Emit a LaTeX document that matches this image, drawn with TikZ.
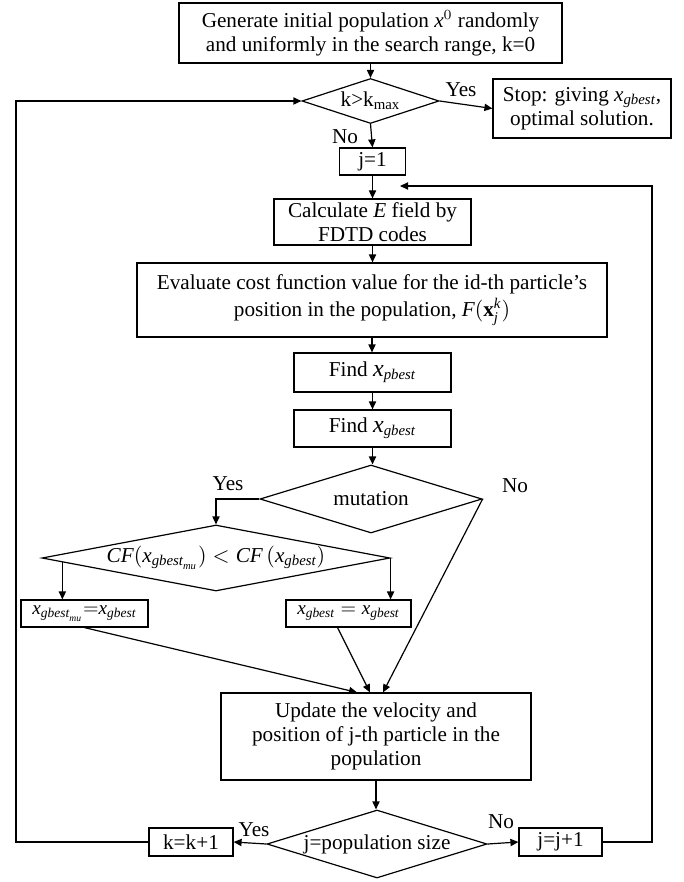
\documentclass[tikz,border=0pt]{standalone}
\usepackage{fontspec}
\setmainfont{Liberation Serif}
\usetikzlibrary{shapes.geometric, arrows.meta, calc}
\newcommand{\xv}[1]{\mathit{x}_{\mathit{#1}}}
\tikzset{
  box/.style={draw, line width=0.6pt, align=center, inner sep=0pt},
  decision/.style={draw, line width=0.6pt, diamond, aspect=3, inner xsep=-20pt, inner ysep=0pt, align=center},
  flow/.style={line width=0.6pt, -{Triangle[length=4pt, width=3.6pt]}},
  small/.style={font=\fontsize{9.6}{11}\selectfont}
}
\begin{document}
\begin{tikzpicture}[x=0.5pt, y=-0.5pt, font=\fontsize{10.6}{12}\selectfont]
\useasboundingbox (0,0) rectangle (684,882);
% start and stopping test
\node[box, minimum width=191.5pt, minimum height=30pt] (init) at (370.5,33)
  {Generate initial population $\mathit{x}^0$ randomly\\ and uniformly in the search range, k=0};
\node[decision, minimum width=68.5pt, minimum height=22.5pt] (kmax) at (370.5,101) {k>k$_{\mathrm{max}}$};
\node[box, minimum width=89pt, minimum height=29.5pt] (stop) at (582,108.5)
  {Stop: giving $\xv{gbest}$,\\ optimal solution.};
\node[box, minimum width=33pt, minimum height=13.5pt] (j1) at (372.5,161.5) {j=1};
% particle loop
\node[box, minimum width=98.5pt, minimum height=23pt] (calc) at (372.5,222) {Calculate $\mathit{E}$ field by\\ FDTD codes};
\node[box, minimum width=235pt, minimum height=37pt] (eval) at (372,300)
  {Evaluate cost function value for the id-th particle’s\\[1.5pt] position in the population, $\mathit{F}(\mathbf{x}_{\mathit{j}}^{\mathit{k}})$};
\node[box, minimum width=78.5pt, minimum height=19.5pt] (pbest) at (372.5,372.5) {Find {\large$\mathit{x}$}$_{\mathit{pbest}}$};
\node[box, minimum width=78.5pt, minimum height=18.5pt] (gbest) at (372.5,428.5) {Find {\large$\mathit{x}$}$_{\mathit{gbest}}$};
% mutation branch
\node[decision, minimum width=111pt, minimum height=34pt] (mut) at (371,499) {mutation};
\node[decision, aspect=5.3, minimum width=174pt, minimum height=33pt] (cf) at (216,558)
  {$\mathit{CF}(\mathit{x}_{\mathit{gbest}_{\mathit{mu}}}) < \mathit{CF}\,(\xv{gbest})$};
\node[box, small, minimum width=63.5pt, minimum height=13.5pt] (mu) at (84.5,613.5) {$\mathit{x}_{\mathit{gbest}_{\mathit{mu}}} {=} \xv{gbest}$};
\node[box, small, minimum width=62.5pt, minimum height=13.5pt] (eq) at (348.5,613.5) {$\xv{gbest} = \xv{gbest}$};
% update and counters
\node[box, minimum width=155pt, minimum height=43.5pt] (upd) at (376,736.5)
  {Update the velocity and\\ position of j-th particle in the\\ population};
\node[decision, minimum width=110pt, minimum height=34pt] (pop) at (377,844) {j=population size};
\node[box, minimum width=42pt, minimum height=14pt] (kk) at (191,842) {k=k+1};
\node[box, minimum width=41.5pt, minimum height=14pt] (jj) at (560.5,842) {j=j+1};
% labels
\node (yes1) at (461,90) {Yes};
\node (no1) at (345,137) {No};
\node (yes2) at (228,484) {Yes};
\node (no2) at (515,486) {No};
\node (yes3) at (254,830) {Yes};
\node (no3) at (501,822) {No};
\coordinate (lft) at (16,0);
\coordinate (rgt) at (652,0);
\coordinate (back) at (400,186);
\coordinate (cfl) at ($(cf.west)!0.12!(cf.south)$);
% connectors
\draw[flow] (init) -- (init |- kmax.north);
\draw[flow] (kmax.east) -- (stop.west);
\draw[flow] (kmax.south) -- (j1.north);
\draw[flow] (j1.south) -- (j1.south |- calc.north);
\draw[flow] (calc.south) -- (calc.south |- eval.north);
\draw[flow] (eval.south) -- (eval.south |- pbest.north);
\draw[flow] (pbest.south) -- (gbest.north);
\draw[flow] (gbest.south) -- (gbest.south |- mut.north);
\draw[flow] (mut.west) -| (cf.north);
\draw[flow] (cfl) -- (cfl |- mu.north);
\draw[flow] (cf.east) -- (cf.east |- eq.north);
\draw[flow] (mu.south) -- ([xshift=-9.5pt]upd.north);
\draw[flow] ([xshift=-5.5pt]eq.south) -- ([xshift=-3pt]upd.north);
\draw[flow] (mut.east) -- ([xshift=3.5pt]upd.north);
\draw[flow] (upd.south) -- (upd.south |- pop.north);
\draw[flow] (pop.west) -- (kk.east);
\draw[flow] (pop.east) -- (jj.west);
\draw[flow] (kk.west) -- (lft |- kk.west) -- (lft |- kmax.west) -- (kmax.west);
\draw[flow] (jj.east) -- (rgt |- jj.east) -- (rgt |- back) -- (back);
\end{tikzpicture}
\end{document}
